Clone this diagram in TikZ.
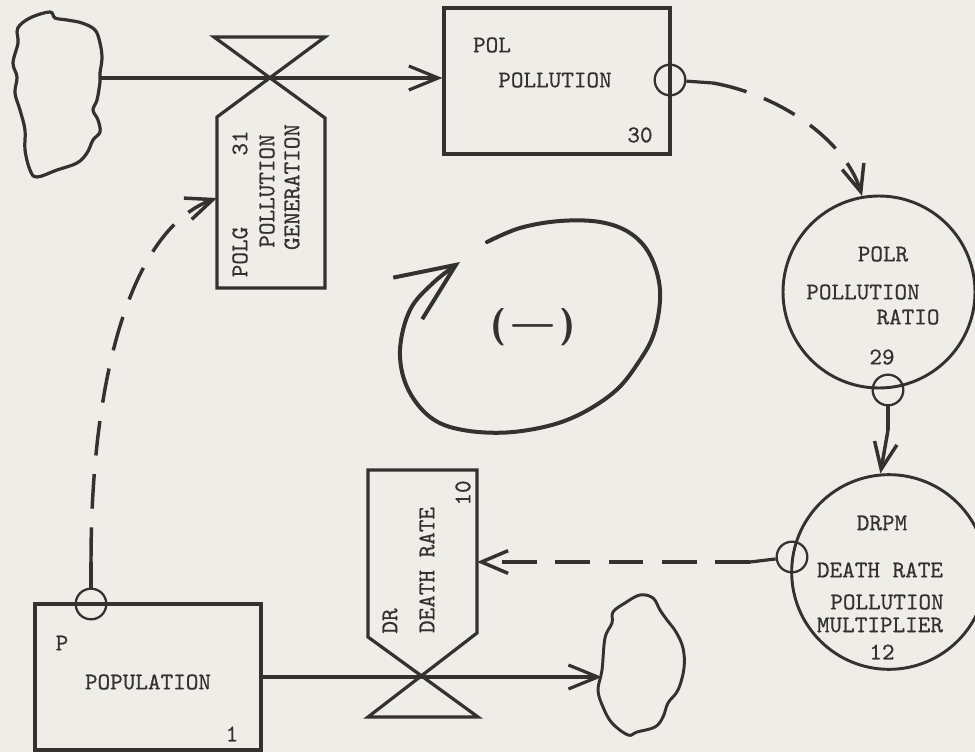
\documentclass[tikz,border=0pt]{standalone}
\usepackage{fontspec}
\usepackage{tikz}
\usetikzlibrary{arrows.meta}

\newfontfamily\typew{lmmono10-regular.otf}[FakeBold=0.6]

\definecolor{paper}{RGB}{238,237,232}
\definecolor{ink}{RGB}{52,50,48}

\tikzset{every picture/.style={line width=2.2pt}}
\tikzset{
  level/.style={draw=ink, rectangle, line width=2.4pt, minimum width=169.5pt, minimum height=109.5pt, inner sep=0pt},
  auxv/.style={draw=ink, circle, line width=2.2pt, minimum size=144pt, inner sep=0pt},
  tap/.style={draw=ink, circle, line width=1.7pt, minimum size=23pt, inner sep=0pt},
  lbl/.style={text=ink, font=\fontsize{18}{20}\selectfont\typew, inner sep=0pt},
  flow/.style={draw=ink, line width=2.4pt, -{Straight Barb[length=22pt,width=18pt]}},
  info/.style={draw=ink, line width=2.6pt, dash pattern=on 26pt off 14pt, -{Straight Barb[length=20pt,width=17pt]}},
  stub/.style={draw=ink, line width=2.4pt},
}

\begin{document}
\begin{tikzpicture}[x=0.75pt,y=0.75pt,yscale=-1,xscale=1]
%set diagram area to the 975 x 752 sheet
\useasboundingbox[fill=paper] (0,0) rectangle (975,752);

%Shape: Cloud (source)
\draw [ink, line width=2.4pt] plot[smooth cycle, tension=0.6] coordinates {(20,25) (32,17) (50,12) (55,18) (67,20) (82,23) (95,30) (100,43) (102,58) (100,73) (100,82) (97,100) (93,110) (98,120) (100,132) (93,140) (87,153) (77,163) (57,170) (37,177) (30,170) (25,150) (25,130) (20,110) (15,93) (17,77) (13,63) (18,43) (17,32)};
\coordinate (cloudA) at (100,78);

%Shape: Cloud (sink)
\draw [ink, line width=2.2pt] plot[smooth cycle, tension=0.6] coordinates {(605,638) (612,623) (613,612) (625,603) (640,595) (653,598) (660,610) (667,620) (676,632) (683,648) (684,668) (678,690) (668,703) (663,717) (655,727) (637,732) (628,735) (612,723) (603,707) (598,690) (602,670)};
\coordinate (cloudB) at (602,677);

%Shape: Valve POLG
\draw [ink, line width=2.4pt] (214,37) -- (325,37) -- (217,117) -- (217,288) -- (325,288) -- (325,118) -- cycle ;
\coordinate (polgv) at (270,78);
\coordinate (polgin) at (217,198);

%Shape: Valve DR
\draw [ink, line width=2.4pt] (368,470) -- (477,470) -- (477,633) -- (368,717) -- (478,717) -- (368,637) -- cycle ;
\coordinate (drv) at (423,676);
\coordinate (drin) at (477,562);

%Shape: Rectangle (levels)
\node [level] (pol) at (557,81) {};
\node [level] (pop) at (148,677) {};

%Shape: Circle (auxiliaries)
\node [auxv] (polr) at (879,292) {};
\node [auxv, minimum size=146pt] (drpm) at (889,572) {};

%Shape: Circle (pick-offs)
\node [tap] (poltap) at (670,80) {};
\node [tap] (polrtap) at (888,390) {};
\node [tap] (drpmtap) at (792,557) {};
\node [tap] (poptap) at (91,604) {};

%Straight Lines (flows)
\draw [flow] (cloudA) -- (cloudA -| pol.west) ;
\draw [flow] (pop) -- (cloudB) ;

%Straight Lines (information links)
\coordinate (popstub) at (91,562);
\draw [stub] (poptap) -- (popstub) ;
\draw [info] (popstub) .. controls (91,380) and (130,230) .. (polgin) ;

\coordinate (polstub) at (713,83);
\draw [stub] (poltap) -- (polstub) ;
\draw [info] (polstub) .. controls (780,95) and (845,140) .. (polr.100) ;

\coordinate (polrstub) at (888,430);
\draw [stub] (polrtap) -- (polrstub) ;
\draw [info] (polrstub) -- (drpm.95) ;

\coordinate (drpmstub) at (750,562);
\draw [stub] (drpmtap) -- (drpmstub) ;
\draw [info] (drpmstub) -- (drin) ;

%Curve Lines (loop)
\draw [ink, line width=3pt, line cap=round, -{Straight Barb[length=44pt,width=38pt]}] plot[smooth, tension=0.6] coordinates {(487,242) (520,228) (560,221) (600,222) (630,233) (650,255) (660,290) (655,330) (640,360) (613,393) (567,420) (513,432) (463,430) (430,417) (407,387) (400,350) (410,310) (433,283) (460,262)};

% Text Node
\node [lbl] (polt1) at (492,45) {POL};
\node [lbl] (polt2) at (555,80) {POLLUTION};
\node [lbl] (polt3) at (640,135) {30};
% Text Node
\node [lbl, rotate=90] (polgt1) at (240,252) {POLG};
\node [lbl, rotate=90] (polgt2) at (240,143) {31};
\node [lbl, rotate=90] (polgt3) at (267,191) {POLLUTION};
\node [lbl, rotate=90] (polgt4) at (292,187) {GENERATION};
% Text Node
\node [lbl] (polrt1) at (883,254) {POLR};
\node [lbl] (polrt2) at (863,292) {POLLUTION};
\node [lbl] (polrt3) at (908,317) {RATIO};
\node [lbl] (polrt4) at (882,357) {29};
% Text Node
\node [lbl] (drpmt1) at (882,523) {DRPM};
\node [lbl] (drpmt2) at (880,570) {DEATH RATE};
\node [lbl] (drpmt3) at (887,602) {POLLUTION};
\node [lbl] (drpmt4) at (880,625) {MULTIPLIER};
\node [lbl] (drpmt5) at (882,652) {12};
% Text Node
\node [lbl, rotate=90] (drt1) at (390,621) {DR};
\node [lbl, rotate=90] (drt2) at (427,570) {DEATH RATE};
\node [lbl, rotate=90] (drt3) at (463,493) {10};
% Text Node
\node [lbl] (popt1) at (62,643) {P};
\node [lbl] (popt2) at (148,682) {POPULATION};
\node [lbl] (popt3) at (232,734) {1};
% Text Node
\node [text=ink, font=\fontsize{28}{28}\selectfont\sffamily\bfseries, inner sep=0pt] (loopsign) at (533,327) {(\,---\,)};

\end{tikzpicture}
\end{document}
